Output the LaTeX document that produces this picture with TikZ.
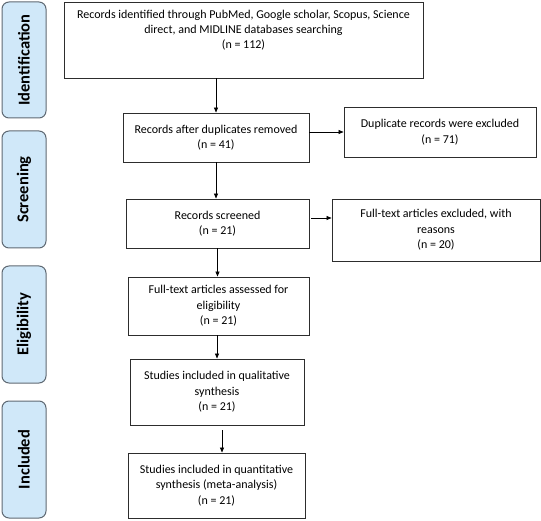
\documentclass[tikz,border=0pt]{standalone}
\usepackage{fontspec}
\setmainfont{Carlito}
\usetikzlibrary{arrows.meta}
\definecolor{sidefill}{RGB}{208,232,249}
\definecolor{sidedraw}{RGB}{95,105,115}
\definecolor{boxdraw}{RGB}{45,45,45}
\begin{document}
\begin{tikzpicture}[x=1pt,y=-1pt,
  box/.style={draw=boxdraw, line width=0.9pt, rectangle, inner sep=0pt, align=center,
    font=\fontsize{12}{15.5}\selectfont, fill=white},
  txt/.style={inner sep=0pt, align=center, font=\fontsize{12}{15}\selectfont},
  side/.style={draw=sidedraw, line width=1pt, fill=sidefill, rounded corners=7pt, rotate=90,
    inner sep=0pt, minimum height=44pt, font=\fontsize{16.5}{18}\selectfont\bfseries},
  arr/.style={draw=black, line width=0.7pt, -{Triangle[length=5pt,width=4pt]}}]
\useasboundingbox (0,0) rectangle (541,521);
% side labels
\node[side, minimum width=116pt] (sI) at (24,60) {Identification};
\node[side, minimum width=117pt] (sS) at (24,189.5) {Screening};
\node[side, minimum width=117pt] (sE) at (24,324.5) {Eligibility};
\node[side, minimum width=117pt] (sN) at (24,459.5) {Included};
% boxes
\node[box, minimum width=359pt, minimum height=76pt] (b1) at (243.5,40) {};
\node[txt, anchor=north] (t1) at ([yshift=-8pt]b1.north) {Records identified through PubMed, Google scholar, Scopus, Science\\direct, and MIDLINE databases searching\\(n = 112)};
\node[box, minimum width=186pt, minimum height=49pt] (b2) at (216,137.5) {Records after duplicates removed\\(n = 41)};
\node[box, minimum width=192pt, minimum height=50pt] (dup) at (440,132) {Duplicate records were excluded\\(n = 71)};
\node[box, minimum width=183pt, minimum height=49pt] (b3) at (217.5,223.5) {Records screened\\(n = 21)};
\node[box, minimum width=208pt, minimum height=62pt] (exc) at (436,230) {Full-text articles excluded, with\\reasons\\(n = 20)};
\node[box, minimum width=181pt, minimum height=58pt] (b4) at (218.5,306) {Full-text articles assessed for\\eligibility\\(n = 21)};
\node[box, minimum width=174pt, minimum height=66pt] (b5) at (217,392) {Studies included in qualitative\\synthesis\\(n = 21)};
\node[box, minimum width=177pt, minimum height=65pt] (b6) at (216.5,485.5) {Studies included in quantitative\\synthesis (meta-analysis)\\(n = 21)};
% arrows
\draw[arr] (b2.north |- b1.south) -- (b2.north);
\coordinate (a2) at (b2.east |- dup.west);
\draw[arr] (a2) -- (dup.west);
\draw[arr] (b2.south) -- (b2.south |- b3.north);
\coordinate (a3) at ([xshift=2pt,yshift=5.5pt]b3.east);
\draw[arr] (a3) -- (a3 -| exc.west);
\draw[arr] (b3.south) -- (b3.south |- b4.north);
\draw[arr] (b5.north |- b4.south) -- (b5.north);
\coordinate (a5) at ([xshift=5pt,yshift=-5pt]b5.south);
\draw[arr] (a5) -- (a5 |- b6.north);
\end{tikzpicture}
\end{document}
